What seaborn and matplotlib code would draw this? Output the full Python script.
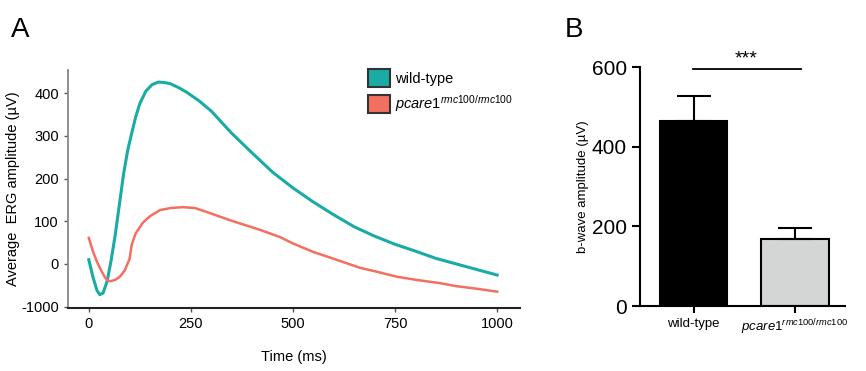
import matplotlib
matplotlib.use("Agg")
import matplotlib.pyplot as plt
from matplotlib.patches import Patch
import pandas as pd
import seaborn as sns

# panel A: average ERG traces
time_wt = [0, 10, 20, 27, 35, 45, 55, 65, 75, 85, 95, 105, 115, 125, 140, 155, 170,
           185, 200, 220, 240, 270, 300, 350, 400, 450, 500, 550, 600, 650, 700, 750,
           800, 850, 900, 950, 1000]
amp_wt = [10, -30, -62, -72, -68, -40, 10, 70, 140, 210, 265, 306, 345, 376, 405, 420,
          426, 425, 422, 413, 402, 382, 358, 306, 260, 215, 178, 145, 115, 87, 65, 46,
          30, 13, 0, -13, -26]
time_mut = [0, 10, 20, 30, 40, 47, 55, 65, 76, 88, 100, 105, 115, 132, 150, 174, 200,
            230, 260, 297, 350, 419, 468, 500, 550, 600, 664, 700, 755, 800, 860, 900,
            950, 1000]
amp_mut = [61, 30, 5, -15, -32, -40, -40, -37, -30, -15, 12, 45, 72, 96, 112, 126, 131,
           133, 131, 119, 101, 80, 63, 48, 28, 12, -9, -17, -30, -37, -45, -52, -58, -65]
ytick_vals = [-100, 0, 100, 200, 300, 400]
ytick_text = ["-1000", "0", "100", "200", "300", "400"]

# panel B: b-wave amplitude
groups = ["wild-type", "pcare1"]
bwave = [465, 168]
bwave_err = [63, 28]

teal = "#1aaba5"
salmon = "#f36f5f"

plt.rcParams["font.family"] = ["Liberation Sans", "DejaVu Sans"]
plt.rcParams["mathtext.fontset"] = "custom"
plt.rcParams["mathtext.it"] = "Liberation Sans:italic"
plt.rcParams["mathtext.rm"] = "Liberation Sans"

fig = plt.figure(figsize=(8.66, 3.71), dpi=100)
ax1 = fig.add_axes([0.0785, 0.170, 0.522, 0.641])
ax2 = fig.add_axes([0.739, 0.175, 0.237, 0.644])

df_wt = pd.DataFrame({"t": time_wt, "amp": amp_wt})
df_mut = pd.DataFrame({"t": time_mut, "amp": amp_mut})
sns.lineplot(data=df_wt, x="t", y="amp", color=teal, lw=2.2, ax=ax1)
sns.lineplot(data=df_mut, x="t", y="amp", color=salmon, lw=1.8, ax=ax1)
ax1.set_xlim(-51, 1056)
ax1.set_ylim(-103, 454)
ax1.set_xticks([0, 250, 500, 750, 1000])
ax1.set_yticks(ytick_vals)
ax1.set_yticklabels(ytick_text)
ax1.tick_params(labelsize=10.5, length=3, width=1, color="#555555")
ax1.set_xlabel("Time (ms)", fontsize=10.5, labelpad=14)
ax1.set_ylabel("Average  ERG amplitude (\u00b5V)", fontsize=10.5, labelpad=1)
for side in ["top", "right"]:
    ax1.spines[side].set_visible(False)
ax1.spines["left"].set_color("#888888")
ax1.spines["left"].set_linewidth(1.3)
ax1.spines["bottom"].set_color("#222222")
ax1.spines["bottom"].set_linewidth(1.5)
handles = [Patch(facecolor=teal, edgecolor="#333333", lw=1.5),
           Patch(facecolor=salmon, edgecolor="#333333", lw=1.5)]
labels = ["wild-type", r"$\mathit{pcare1}^{\mathit{rmc100/rmc100}}$"]
ax1.legend(handles, labels, loc="upper left", bbox_to_anchor=(0.635, 1.06),
           frameon=False, fontsize=10.5, handlelength=1.5, handleheight=1.5,
           handletextpad=0.35, labelspacing=0.45)

df_b = pd.DataFrame({"group": groups, "amp": bwave})
sns.barplot(data=df_b, x="group", y="amp", hue="group",
            palette=["black", "#d4d6d6"], edgecolor="black", linewidth=1.5,
            width=0.67, errorbar=None, legend=False, ax=ax2)
ax2.errorbar([0, 1], bwave, yerr=[[0, 0], bwave_err], fmt="none",
             ecolor="black", elinewidth=1.5, capsize=12, capthick=1.5)
ax2.set_xlim(-0.53, 1.5)
ax2.set_ylim(0, 600)
ax2.set_yticks([0, 200, 400, 600])
ax2.tick_params(axis="y", labelsize=15, length=6, width=1.5)
ax2.tick_params(axis="x", labelsize=9.5, length=5, width=1.5)
ax2.set_xticks([0, 1])
ax2.set_xticklabels(["wild-type", r"$\mathit{pcare1}^{\mathit{rmc100/rmc100}}$"])
ax2.set_xlabel("")
ax2.set_ylabel("b-wave amplitude (\u00b5V)", fontsize=9.5, labelpad=2)
for side in ["top", "right"]:
    ax2.spines[side].set_visible(False)
ax2.spines["left"].set_linewidth(1.5)
ax2.spines["bottom"].set_linewidth(1.5)
ax2.plot([-0.01, 1.06], [595, 595], color="black", lw=1.3, clip_on=False)
ax2.text(0.52, 600, "***", ha="center", va="bottom", fontsize=14, clip_on=False)

fig.text(0.013, 0.9, "A", fontsize=20)
fig.text(0.652, 0.9, "B", fontsize=20)

fig.savefig("out.png", dpi=100)
